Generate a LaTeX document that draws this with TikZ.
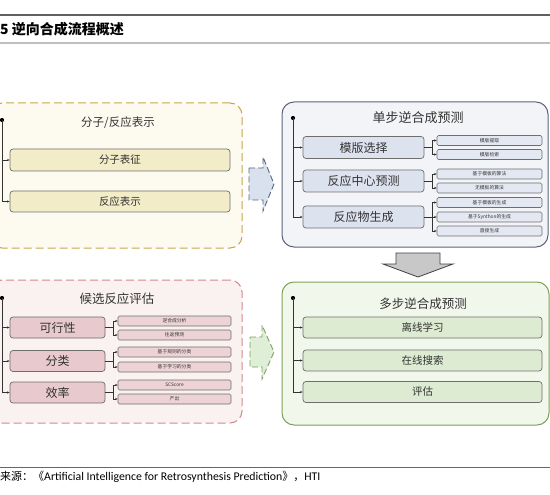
\documentclass[tikz,border=0pt]{standalone}
\usepackage{fontspec}
\setmainfont{Noto Sans CJK SC}
\newfontfamily\latfont{Carlito}
\usetikzlibrary{arrows.meta}
\definecolor{txt}{HTML}{333333}
\definecolor{yBorder}{HTML}{C9A54A}
\definecolor{yFill}{HTML}{FDFBF0}
\definecolor{yItem}{HTML}{F3ECC8}
\definecolor{bBorder}{HTML}{5B6477}
\definecolor{bFill}{HTML}{F3F4F8}
\definecolor{bItem}{HTML}{DDE2EF}
\definecolor{bSub}{HTML}{E4E8F2}
\definecolor{pBorder}{HTML}{D4898C}
\definecolor{pFill}{HTML}{FAF1F1}
\definecolor{pItem}{HTML}{E8C9CD}
\definecolor{pSub}{HTML}{EDD3D6}
\definecolor{gBorder}{HTML}{7FA05A}
\definecolor{gFill}{HTML}{F2F7EC}
\definecolor{gItem}{HTML}{DDEBD3}
\definecolor{itemBorder}{HTML}{6E6E6E}
\definecolor{arrBFill}{HTML}{D9E1EE}
\definecolor{arrBBorder}{HTML}{56657F}
\definecolor{arrGFill}{HTML}{DFEED6}
\definecolor{arrGBorder}{HTML}{7DA05A}
\definecolor{downFill}{HTML}{C8C8C8}
\begin{document}
\begin{tikzpicture}[x=1pt,y=-1pt,
  outerbox/.style={rounded corners=12pt, line width=1pt, inner sep=0pt},
  itembox/.style={rounded corners=3pt, draw=itemBorder, line width=0.7pt, inner sep=0pt, text=txt},
  subbox/.style={rounded corners=1.5pt, draw=itemBorder, line width=0.6pt, inner sep=0pt, text=txt, font=\fontsize{4.8}{5.5}\selectfont},
  boxtitle/.style={text=txt, inner sep=0pt},
  dotnode/.style={circle, fill=black, inner sep=0pt, minimum size=4.2pt},
  conn/.style={draw=txt, line width=0.6pt, -{Stealth[length=2.6pt,width=2.2pt]}},
  plainline/.style={draw=txt, line width=0.6pt}
]
\useasboundingbox (0,0) rectangle (550,495);
\clip (0,0) rectangle (550,495);
\fill[white] (0,0) rectangle (550,495);

% header
\draw[line width=1.5pt, draw=black!62] (0,15) -- (550,15);
\draw[line width=1.5pt, draw=black!25] (0,43) -- (550,43);
\node[anchor=west, inner sep=0pt, font=\fontsize{14}{16}\bfseries] (title) at (0,29) {5 逆向合成流程概述};

% footer
\draw[line width=1pt, draw=black!60] (0,467) -- (550,467);
\node[anchor=west, inner sep=0pt, font=\fontsize{11}{13}\selectfont] (source) at (0,477) {来源：《\latfont\fontsize{11.8}{13}\selectfont Artificial Intelligence for Retrosynthesis Prediction\rmfamily\fontsize{11}{13}\selectfont》，\latfont\fontsize{11.8}{13}\selectfont HTI};

% ---------- top-left box ----------
\node[outerbox, draw=yBorder, fill=yFill, dash pattern=on 8pt off 4pt, minimum width=252pt, minimum height=145pt] (boxA) at (116,175.5) {};
\node[boxtitle, font=\fontsize{11.5}{13}\selectfont] (titleA) at (118,123) {分子/反应表示};
\node[dotnode] (dotA) at (2,120) {};
\node[itembox, fill=yItem, minimum width=220pt, minimum height=22pt, font=\fontsize{10.5}{12}\selectfont] (a1) at (120,160) {分子表征};
\node[itembox, fill=yItem, minimum width=220pt, minimum height=21pt, font=\fontsize{10.5}{12}\selectfont] (a2) at (120,201.5) {反应表示};
\draw[conn] (dotA.center) |- (a1.west);
\draw[conn] (dotA.center) |- (a2.west);

% ---------- top-right box ----------
\node[outerbox, draw=bBorder, fill=bFill, minimum width=266pt, minimum height=145pt] (boxB) at (415,174.5) {};
\node[boxtitle, font=\fontsize{13}{15}\selectfont] (titleB) at (418,118) {单步逆合成预测};
\node[dotnode] (dotB) at (293,118) {};
\tikzset{bmain/.style={itembox, fill=bItem, minimum width=121pt, minimum height=22pt, font=\fontsize{12}{14}\selectfont},
         bsub/.style={subbox, fill=bSub, minimum width=105pt, minimum height=10pt}}
\node[bmain] (b1) at (363.5,147.5) {模版选择};
\node[bmain] (b2) at (363.5,181) {反应中心预测};
\node[bmain] (b3) at (363.5,217) {反应物生成};
\node[bsub] (b11) at (489.5,140.5) {模版提取};
\node[bsub] (b12) at (489.5,154.5) {模版检索};
\node[bsub] (b21) at (489.5,174) {基于模板的算法};
\node[bsub] (b22) at (489.5,188) {无模板的算法};
\node[bsub] (b31) at (489.5,202.5) {基于模板的生成};
\node[bsub] (b32) at (489.5,217) {基于Synthon的生成};
\node[bsub] (b33) at (489.5,231) {直接生成};
\draw[conn] (dotB.center) |- (b1.west);
\draw[conn] (dotB.center) |- (b2.west);
\draw[conn] (dotB.center) |- (b3.west);
\draw[plainline] (b1.east) -- ++(7.5,0) coordinate (fb1);
\draw[conn] (fb1) |- (b11.west);
\draw[conn] (fb1) |- (b12.west);
\draw[plainline] (b2.east) -- ++(7.5,0) coordinate (fb2);
\draw[conn] (fb2) |- (b21.west);
\draw[conn] (fb2) |- (b22.west);
\draw[plainline] (b3.east) -- ++(7.5,0) coordinate (fb3);
\draw[conn] (fb3) |- (b31.west);
\draw[conn] (fb3) |- (b32.west);
\draw[conn] (fb3) |- (b33.west);

% ---------- bottom-left box ----------
\node[outerbox, draw=pBorder, fill=pFill, dash pattern=on 8pt off 4pt, minimum width=252pt, minimum height=143pt] (boxC) at (116,351.5) {};
\node[boxtitle, font=\fontsize{12.5}{14}\selectfont] (titleC) at (117,299) {候选反应评估};
\node[dotnode] (dotC) at (2,298) {};
\tikzset{pmain/.style={itembox, fill=pItem, minimum width=95pt, minimum height=21pt, font=\fontsize{12}{14}\selectfont},
         psub/.style={subbox, fill=pSub, minimum width=113pt, minimum height=10pt}}
\node[pmain] (c1) at (57.5,327.5) {可行性};
\node[pmain] (c2) at (57.5,361) {分类};
\node[pmain] (c3) at (57.5,392.5) {效率};
\node[psub] (c11) at (174.5,321) {逆合成分析};
\node[psub] (c12) at (174.5,335) {往返预测};
\node[psub] (c21) at (174.5,352) {基于规则的分类};
\node[psub] (c22) at (174.5,367) {基于学习的分类};
\node[psub] (c31) at (174.5,385) {SCScore};
\node[psub] (c32) at (174.5,399) {产出};
\draw[conn] (dotC.center) |- (c1.west);
\draw[conn] (dotC.center) |- (c2.west);
\draw[conn] (dotC.center) |- (c3.west);
\draw[plainline] (c1.east) -- ++(7.5,0) coordinate (fc1);
\draw[conn] (fc1) |- (c11.west);
\draw[conn] (fc1) |- (c12.west);
\draw[plainline] (c2.east) -- ++(7.5,0) coordinate (fc2);
\draw[conn] (fc2) |- (c21.west);
\draw[conn] (fc2) |- (c22.west);
\draw[plainline] (c3.east) -- ++(7.5,0) coordinate (fc3);
\draw[conn] (fc3) |- (c31.west);
\draw[conn] (fc3) |- (c32.west);

% ---------- bottom-right box ----------
\node[outerbox, draw=gBorder, fill=gFill, minimum width=267pt, minimum height=143pt] (boxD) at (415.5,353.5) {};
\node[boxtitle, font=\fontsize{12.5}{14}\selectfont] (titleD) at (423,304) {多步逆合成预测};
\node[dotnode] (dotD) at (293,298) {};
\tikzset{gmain/.style={itembox, fill=gItem, minimum width=239pt, minimum height=21pt, font=\fontsize{10.5}{12}\selectfont}}
\node[gmain] (d1) at (422.5,327.5) {离线学习};
\node[gmain] (d2) at (422.5,360.5) {在线搜索};
\node[gmain] (d3) at (422.5,392) {评估};
\draw[conn] (dotD.center) |- (d1.west);
\draw[conn] (dotD.center) |- (d2.west);
\draw[conn] (dotD.center) |- (d3.west);

% ---------- block arrows ----------
\draw[fill=arrBFill, draw=arrBBorder, line width=0.9pt, dash pattern=on 6pt off 3pt, line join=miter]
  (249,168) -- (263,168) -- (263,157) -- (274,184) -- (263,211) -- (263,200) -- (249,200) -- cycle;
\draw[fill=arrGFill, draw=arrGBorder, line width=0.9pt, dash pattern=on 6pt off 3pt, line join=miter]
  (250,337) -- (262,337) -- (262,325) -- (274,352) -- (262,379) -- (262,367) -- (250,367) -- cycle;
\draw[fill=downFill, draw=black!75, line width=0.8pt, line join=miter]
  (396,253) -- (440,253) -- (440,264) -- (453,264) -- (418,277) -- (383,264) -- (396,264) -- cycle;
\end{tikzpicture}
\end{document}
